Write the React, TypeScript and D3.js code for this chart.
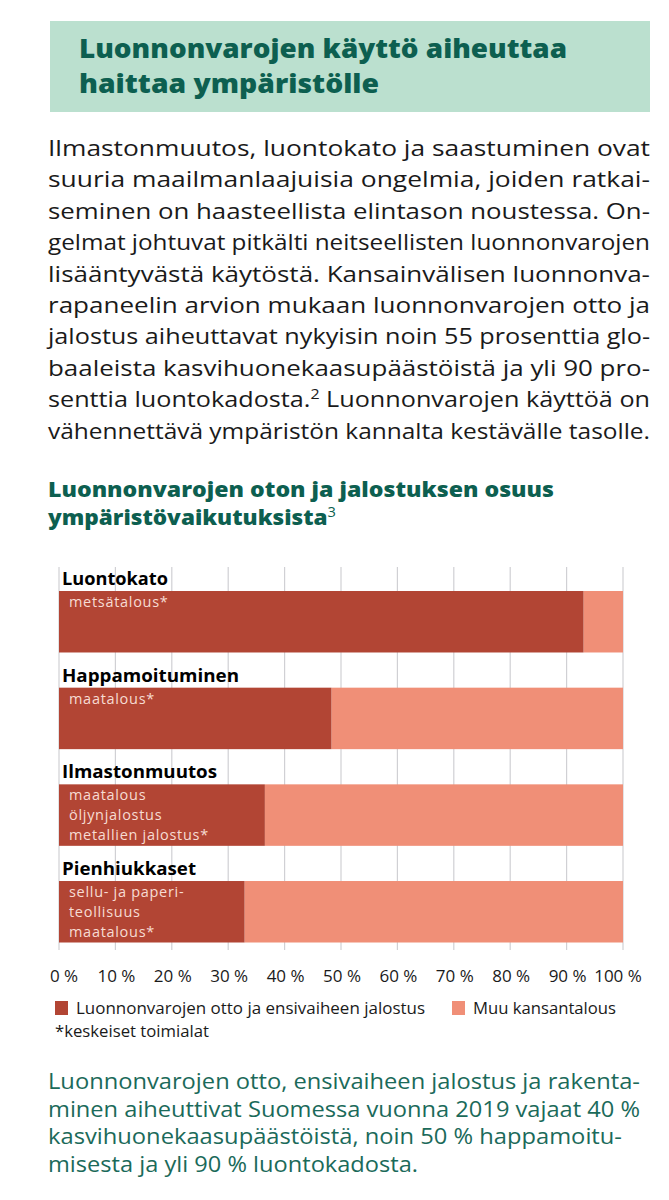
import React from "react";
import * as d3 from "d3";

const titleLines = ["Luonnonvarojen käyttö aiheuttaa", "haittaa ympäristölle"];
const bodyLines = [
  "Ilmastonmuutos, luontokato ja saastuminen ovat",
  "suuria maailmanlaajuisia ongelmia, joiden ratkai-",
  "seminen on haasteellista elintason noustessa. On-",
  "gelmat johtuvat pitkälti neitseellisten luonnonvarojen",
  "lisääntyvästä käytöstä. Kansainvälisen luonnonva-",
  "rapaneelin arvion mukaan luonnonvarojen otto ja",
  "jalostus aiheuttavat nykyisin noin 55 prosenttia glo-",
  "baaleista kasvihuonekaasupäästöistä ja yli 90 pro-",
  "senttia luontokadosta.|2| Luonnonvarojen käyttöä on",
  "vähennettävä ympäristön kannalta kestävälle tasolle.",
];
const chartTitleLines = ["Luonnonvarojen oton ja jalostuksen osuus", "ympäristövaikutuksista|3|"];
const categories = ["Luontokato", "Happamoituminen", "Ilmastonmuutos", "Pienhiukkaset"];
const primaryShare = [93, 48.3, 36.5, 32.9];
const sectorLabels = [
  ["metsätalous*"],
  ["maatalous*"],
  ["maatalous", "öljynjalostus", "metallien jalostus*"],
  ["sellu- ja paperi-", "teollisuus", "maatalous*"],
];
const ticks = [0, 10, 20, 30, 40, 50, 60, 70, 80, 90, 100];
const legendLabels = ["Luonnonvarojen otto ja ensivaiheen jalostus", "Muu kansantalous"];
const footnote = "*keskeiset toimialat";
const bottomLines = [
  "Luonnonvarojen otto, ensivaiheen jalostus ja rakenta-",
  "minen aiheuttivat Suomessa vuonna 2019 vajaat 40 %",
  "kasvihuonekaasupäästöistä, noin 50 % happamoitu-",
  "misesta ja yli 90 % luontokadosta.",
];

const FONT = "'Open Sans', 'Noto Sans', sans-serif";
const DARK = "#b24534";
const LIGHT = "#f08f77";
const GREEN = "#0d5f50";

function renderSup(line: string, supSize: number) {
  const parts = line.split("|");
  return parts.map((p, i) =>
    i % 2 === 1 ? (
      <tspan key={i} fontSize={supSize} fontWeight={400} dy={-8}>{p}</tspan>
    ) : (
      <tspan key={i} dy={i > 0 ? 8 : 0}>{p}</tspan>
    )
  );
}

export default function App() {
  const x = d3.scaleLinear().domain([0, 100]).range([59, 623]);
  const y = d3.scaleBand<string>().domain(categories).range([591, 942.5]).paddingInner(0.364);
  const bodyWidths = [602, 602, 602, 602, 602, 602, 602, 602, 602, 602];
  const bottomWidths = [592, 592, 574, 370];
  const catWidths = [106, 177, 155, 134];

  return (
    <svg width={669} height={1200} style={{ position: "absolute", left: 0, top: 0 }} fontFamily={FONT}>
      <rect x={0} y={0} width={669} height={1200} fill="#ffffff" />
      {/* Header */}
      <rect x={50} y={21} width={600} height={91} fill="#bbe0cf" />
      {titleLines.map((t, i) => (
        <text key={i} x={79} y={58 + i * 35} fontSize={27} fontWeight={800} fill={GREEN}
          textLength={i === 0 ? 488 : 300} lengthAdjust="spacingAndGlyphs">{t}</text>
      ))}
      {/* Body */}
      {bodyLines.map((t, i) => (
        <text key={i} x={48} y={156 + i * 31.4} fontSize={22} fill="#1a1a1a"
          textLength={bodyWidths[i]} lengthAdjust="spacingAndGlyphs">{renderSup(t, 14)}</text>
      ))}
      {/* Chart title */}
      {chartTitleLines.map((t, i) => (
        <text key={i} x={48} y={497 + i * 28} fontSize={21.5} fontWeight={800} fill={GREEN}
          textLength={i === 0 ? 506 : 288} lengthAdjust="spacingAndGlyphs">{renderSup(t, 14)}</text>
      ))}
      {/* Gridlines */}
      {ticks.map((t) => (
        <line key={t} x1={x(t)} x2={x(t)} y1={567} y2={950} stroke="#d0d0d4" strokeWidth={1.2} />
      ))}
      {/* Bars */}
      {categories.map((c, i) => {
        const y0 = y(c) as number;
        const bw = y.bandwidth();
        return (
          <g key={c}>
            <text x={62} y={y0 - 6} fontSize={17} fontWeight={700} fill="#000"
              textLength={catWidths[i]} lengthAdjust="spacingAndGlyphs">{c}</text>
            <rect x={x(primaryShare[i])} y={y0} width={x(100) - x(primaryShare[i])} height={bw} fill={LIGHT} />
            <rect x={x(0)} y={y0} width={x(primaryShare[i]) - x(0)} height={bw} fill={DARK} />
            {sectorLabels[i].map((s, j) => (
              <text key={j} x={69} y={y0 + 16 + j * 19.8} fontSize={14.5} fill="#f7dcd3" letterSpacing={0.7}>{s}</text>
            ))}
          </g>
        );
      })}
      {/* Tick labels */}
      {ticks.map((t) => (
        <text key={t} x={x(t) + (t === 0 ? 5 : t === 100 ? -5 : 1)} y={982} fontSize={17} fill="#1a1a1a" textAnchor="middle">{`${t} %`}</text>
      ))}
      {/* Legend */}
      <rect x={55} y={1001} width={13} height={14} fill={DARK} />
      <text x={76} y={1014} fontSize={16.5} fill="#1a1a1a" textLength={349} lengthAdjust="spacingAndGlyphs">{legendLabels[0]}</text>
      <rect x={452} y={1001} width={13} height={14} fill={LIGHT} />
      <text x={473} y={1014} fontSize={16.5} fill="#1a1a1a" textLength={143} lengthAdjust="spacingAndGlyphs">{legendLabels[1]}</text>
      <text x={55} y={1037} fontSize={16} fill="#1a1a1a" textLength={154} lengthAdjust="spacingAndGlyphs">{footnote}</text>
      {/* Bottom text */}
      {bottomLines.map((t, i) => (
        <text key={i} x={48} y={1089 + i * 27.5} fontSize={21} fill="#1b6a5a"
          textLength={bottomWidths[i]} lengthAdjust="spacingAndGlyphs">{t}</text>
      ))}
    </svg>
  );
}
